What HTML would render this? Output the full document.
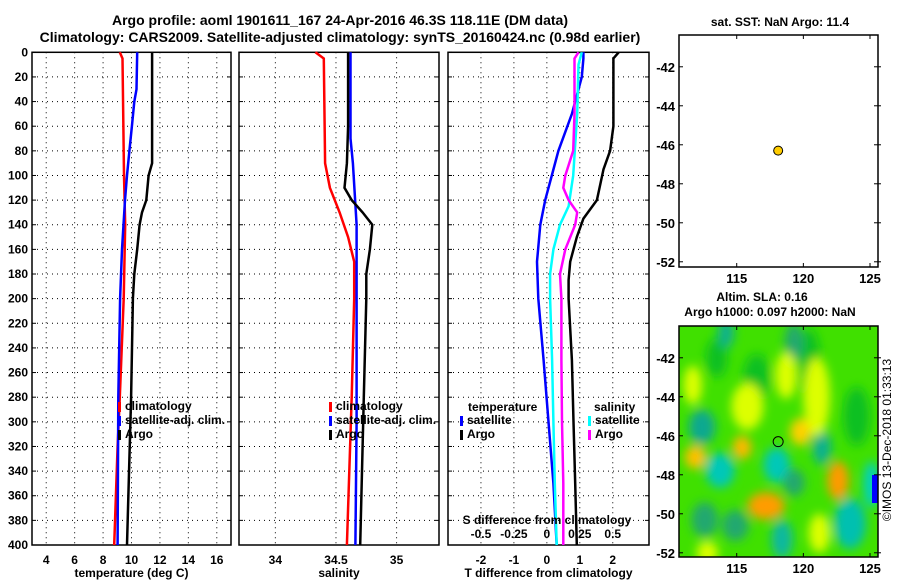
<!DOCTYPE html>
<html><head><meta charset="utf-8"><style>
body{margin:0;background:#fff;}
svg{display:block;font-family:"Liberation Sans",sans-serif;font-weight:bold;}
</style></head><body>
<svg id="c" width="900" height="580" viewBox="0 0 900 580">
<defs>
<filter id="bl" x="-50%" y="-50%" width="200%" height="200%"><feGaussianBlur stdDeviation="5"/></filter>
<clipPath id="mapclip"><rect x="679" y="326" width="199" height="231"/></clipPath>
</defs>
<text x="340" y="25" font-size="14" text-anchor="middle">Argo profile: aoml 1901611_167 24-Apr-2016 46.3S 118.11E (DM data)</text>
<text x="340" y="42" font-size="14" text-anchor="middle">Climatology: CARS2009. Satellite-adjusted climatology: synTS_20160424.nc (0.98d earlier)</text>
<g id="g"></g>
</svg>
<script>
// ---- data ----
const depthTicks = [0,20,40,60,80,100,120,140,160,180,200,220,240,260,280,300,320,340,360,380,400];
const tempTicks = [4,6,8,10,12,14,16];
const salTicks = [34,34.5,35];
const salTickLabels = ["34","34.5","35"];
const tdTicks = [-2,-1,0,1,2];
const sdTicks = [-0.5,-0.25,0,0.25,0.5];
const sdTickLabels = ["-0.5","-0.25","0","0.25","0.5"];

const tClimDepth = [0,5,100,140,200,280,320,400];
const tClimVal   = [9.18,9.37,9.47,9.56,9.45,9.18,9.02,8.78];
const tSatDepth = [0,30,40,60,80,100,120,160,200,280,400];
const tSatVal   = [10.4,10.35,10.2,10.03,9.85,9.68,9.54,9.33,9.2,9.07,9.02];
const tArgoDepth = [0,90,100,120,130,140,160,180,200,280,400];
const tArgoVal   = [11.45,11.45,11.2,11.04,10.74,10.57,10.4,10.2,10.1,9.97,9.68];

const sClimDepth = [0,5,90,110,130,150,170,200,280,400];
const sClimVal   = [34.33,34.40,34.41,34.45,34.53,34.60,34.65,34.65,34.63,34.59];
const sSatDepth = [0,70,90,140,300,400];
const sSatVal   = [34.62,34.62,34.64,34.67,34.67,34.66];
const sArgoDepth = [0,60,90,110,120,130,140,160,180,200,280,400];
const sArgoVal   = [34.60,34.60,34.59,34.57,34.63,34.72,34.80,34.78,34.75,34.75,34.73,34.70];

const dTArgoDepth = [0,5,60,80,95,120,135,150,170,185,200,250,300,350,400];
const dTArgoVal   = [2.18,2.02,2.02,1.92,1.72,1.52,1.11,0.91,0.71,0.66,0.66,0.76,0.81,0.86,0.91];
const dTSatDepth = [0,5,20,50,80,100,120,140,170,200,250,300,350,400];
const dTSatVal   = [1.11,1.11,1.06,0.76,0.35,0.15,-0.05,-0.2,-0.3,-0.26,-0.1,0.05,0.2,0.3];
const dSSatDepth = [0,10,50,100,125,140,160,180,200,250,300,350,400];
const dSSatVal   = [0.265,0.24,0.23,0.2,0.165,0.1,0.05,0.025,0.025,0.04,0.05,0.06,0.075];
const dSArgoDepth = [0,5,50,80,100,110,120,130,140,160,180,200,250,300,350,400];
const dSArgoVal   = [0.24,0.21,0.21,0.2,0.14,0.125,0.165,0.23,0.215,0.14,0.1,0.11,0.11,0.115,0.125,0.125];

const lonTicks = [115,120,125];
const latTicks = [-42,-44,-46,-48,-50,-52];
const argoLon = 118.11, argoLat = -46.3;
// SLA blobs: lon, lat, radius lon, radius lat, colour
const blobLon = [116.5,113.5,120.5,124,112.4,113.75,118,119.3,121.4,125.1,123.5,112.6,114.9,118.4,114.2,119.3,117.2,122.6,111.9,115.4,119.8,115.8,121,121.2,111.7,118.7,112.8];
const blobLat = [-43,-42,-42.5,-45,-45.55,-47.77,-47.5,-48.4,-46.6,-48.5,-50.5,-50.3,-50.6,-51.3,-40.7,-41.2,-49.6,-48.3,-47.1,-46.6,-45.8,-44.5,-44,-51,-43.4,-42.9,-52];
const blobRx = [1,0.8,0.8,1,1,1.1,1,0.8,0.7,0.6,1.2,1,1,0.8,0.6,0.7,1.4,0.8,0.8,0.7,0.8,1.2,1,0.8,0.7,0.8,0.8];
const blobRy = [1.2,1,2,1.5,0.9,0.9,0.9,0.7,0.9,1.2,1.3,0.9,0.8,1,0.8,1,0.7,1,0.6,0.6,0.7,1.2,2,1,1,1.2,0.6];
const blobCol = ["#10c020","#10c020","#10c020","#10c020","#10a890","#00c8b8","#00c8b8","#20a870","#10b090","#00d0c0","#00c0b0","#20a870","#20a870","#10b8a0","#10b090","#20a870","#ff9c00","#ff9a00","#ffc000","#ffb800","#ffd000","#ddff00","#ddff00","#ddff00","#ddff00","#ddff00","#ddff00"];

// ---- drawing ----
const NS="http://www.w3.org/2000/svg";
const G=document.getElementById('g');
function el(tag,attrs,parent){const e=document.createElementNS(NS,tag);for(const k in attrs)e.setAttribute(k,attrs[k]);(parent||G).appendChild(e);return e;}
function txt(x,y,s,size,anchor,parent){const t=el('text',{x:x,y:y,'font-size':size,'text-anchor':anchor||'middle'},parent);t.textContent=s;return t;}
const Y0=52.3,Y1=545;
const yD=d=>Y0+(d/400)*(Y1-Y0);

function panel(name,x0,x1,vmin,vmax,ticks,labels,xlabel){
  const gp=el('g',{});
  
  
  const sx=v=>x0+(v-vmin)/(vmax-vmin)*(x1-x0);
  depthTicks.forEach(d=>{ if(d>0&&d<400){const l=el('line',{x1:x0,x2:x1,y1:yD(d),y2:yD(d),stroke:'#000','stroke-width':1,'stroke-dasharray':'1,4'},gp);
    }
    el('line',{x1:x0,x2:x0+4,y1:yD(d),y2:yD(d),stroke:'#000'},gp);el('line',{x1:x1-4,x2:x1,y1:yD(d),y2:yD(d),stroke:'#000'},gp);});
  ticks.forEach((v,i)=>{const X=sx(v);
    const l=el('line',{x1:X,x2:X,y1:Y0,y2:Y1,stroke:'#000','stroke-width':1,'stroke-dasharray':'1,4'},gp);
    
    if(labels){const t=txt(X,564,labels[i],12,'middle',gp);}});
  const r=el('rect',{x:x0,y:Y0,width:x1-x0,height:Y1-Y0,fill:'none',stroke:'#000','stroke-width':1.5},gp);
  
  const xl=txt((x0+x1)/2,577,xlabel,12,'middle',gp);
  
  return {sx,gp};
}
function series(p,depths,vals,col,name,w){
  const pts=depths.map((d,i)=>p.sx(vals[i]).toFixed(1)+','+yD(d).toFixed(1)).join(' ');
  const l=el('polyline',{points:pts,fill:'none',stroke:col,'stroke-width':w||2.5},p.gp);
  
}
function legend(gp,x,y,col,label){
  const m=el('rect',{x:x,y:y-8,width:3,height:10,fill:col},gp);
  
  const t=txt(x+7,y,label,12,'start',gp);
  
}

depthTicks.forEach(d=>{const t=txt(28,yD(d)+4,String(d),12,'end');});

const pT=panel('temperature-panel',32,231,3,17,tempTicks,tempTicks.map(String),'temperature (deg C)');
series(pT,tClimDepth,tClimVal,'#f00','temp-climatology-line');
series(pT,tSatDepth,tSatVal,'#00f','temp-satellite-line');
series(pT,tArgoDepth,tArgoVal,'#000','temp-argo-line');
legend(pT.gp,118,410,'#f00','climatology');legend(pT.gp,118,424,'#00f','satellite-adj. clim.');legend(pT.gp,118,438,'#000','Argo');

const pS=panel('salinity-panel',239,439,33.7,35.35,salTicks,salTickLabels,'salinity');
series(pS,sClimDepth,sClimVal,'#f00','sal-climatology-line');
series(pS,sSatDepth,sSatVal,'#00f','sal-satellite-line');
series(pS,sArgoDepth,sArgoVal,'#000','sal-argo-line');
legend(pS.gp,329,410,'#f00','climatology');legend(pS.gp,329,424,'#00f','satellite-adj. clim.');legend(pS.gp,329,438,'#000','Argo');

const pD=panel('difference-panel',448,649,-3,3.1,tdTicks,tdTicks.map(String),'T difference from climatology');
const pDS={sx:v=>pD.sx(v*4),gp:pD.gp};
series(pD,dTSatDepth,dTSatVal,'#00f','tdiff-satellite-line');
series(pD,dTArgoDepth,dTArgoVal,'#000','tdiff-argo-line');
series(pDS,dSSatDepth,dSSatVal,'#0ff','sdiff-satellite-line');
series(pDS,dSArgoDepth,dSArgoVal,'#f0f','sdiff-argo-line');
{const t=txt(468,411,'temperature',12,'start',pD.gp);
 const s=txt(594,411,'salinity',12,'start',pD.gp);}
legend(pD.gp,460,424,'#00f','satellite');legend(pD.gp,460,438,'#000','Argo');
legend(pD.gp,588,424,'#0ff','satellite');legend(pD.gp,588,438,'#f0f','Argo');
{const t=txt(547,524,'S difference from climatology',12,'middle',pD.gp);
 sdTicks.forEach((v,i)=>{const k=txt(pDS.sx(v),538,sdTickLabels[i],12,'middle',pD.gp);});}

const MX0=679,MX1=878,LON0=110.67,LON1=125.6;
const mx=l=>MX0+(l-LON0)/(LON1-LON0)*(MX1-MX0);
function map(name,top,bottom,latTop){
  const gm=el('g',{});
  
  const my=l=>top+(latTop-l)*19.5;
  return {gm,my,top,bottom};
}
function mapAxes(m){
  lonTicks.forEach(l=>{const X=mx(l);
    el('line',{x1:X,x2:X,y1:m.top,y2:m.top+4,stroke:'#000'},m.gm);el('line',{x1:X,x2:X,y1:m.bottom-4,y2:m.bottom,stroke:'#000'},m.gm);
    const t=txt(X,m.bottom+16,String(l),13,'middle',m.gm);});
  latTicks.forEach(l=>{const Y=m.my(l);
    el('line',{x1:MX0,x2:MX0+4,y1:Y,y2:Y,stroke:'#000'},m.gm);el('line',{x1:MX1-4,x2:MX1+3,y1:Y,y2:Y,stroke:'#000'},m.gm);
    const t=txt(675,Y+5,String(l),13,'end',m.gm);});
  const r=el('rect',{x:MX0,y:m.top,width:MX1-MX0,height:m.bottom-m.top,fill:'none',stroke:'#000','stroke-width':1.5},m.gm);
  
}
const m1=map('sst-map',35,267,-40.37);
{const t=txt(780,26,'sat. SST: NaN Argo: 11.4',12,'middle',m1.gm);}
mapAxes(m1);
{const c=el('circle',{cx:mx(argoLon),cy:m1.my(argoLat),r:4.5,fill:'#ffcc00',stroke:'#000','stroke-width':1},m1.gm);}

const m2=map('sla-map',326,557,-40.37);
{const t=txt(762,301,'Altim. SLA: 0.16',12,'middle',m2.gm);
 const t2=txt(770,316,'Argo h1000: 0.097 h2000: NaN',12,'middle',m2.gm);}
const hm=el('g',{'clip-path':'url(#mapclip)'},m2.gm);

el('rect',{x:MX0,y:326,width:199,height:231,fill:'#40e000'},hm);
const bg=el('g',{filter:'url(#bl)'},hm);
blobLon.forEach((lo,i)=>{const e=el('ellipse',{cx:mx(lo),cy:m2.my(blobLat[i]),rx:blobRx[i]*13.3,ry:blobRy[i]*19.5,fill:blobCol[i]},bg);
  });
el('rect',{x:872,y:475,width:6,height:28,fill:'#0000ff'},hm);
mapAxes(m2);
{const c=el('circle',{cx:mx(argoLon),cy:m2.my(argoLat),r:5,fill:'none',stroke:'#000','stroke-width':1},m2.gm);}
{const t=txt(0,0,'©IMOS 13-Dec-2018 01:33:13',12,'middle',m2.gm);t.setAttribute('transform','translate(891,440) rotate(-90)');t.setAttribute('font-weight','normal');}
</script>
</body></html>
